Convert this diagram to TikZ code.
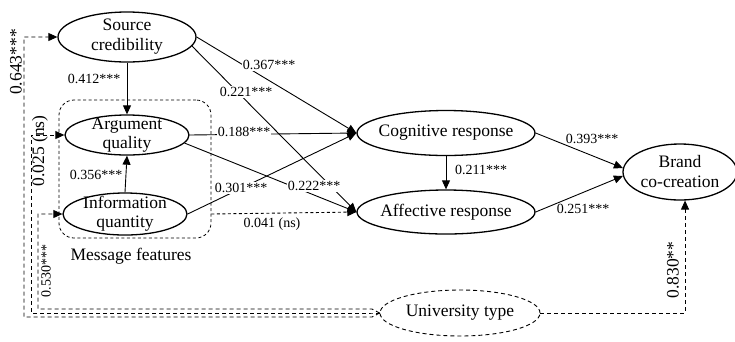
\documentclass[tikz,border=0pt]{standalone}
\usepackage{fontspec}
\setmainfont{Liberation Serif}
\usetikzlibrary{shapes.geometric,arrows.meta}
\begin{document}
\begin{tikzpicture}[x=1pt,y=-1pt,
 lat/.style={ellipse,draw,line width=1.3pt,inner sep=-20pt,align=center,font=\fontsize{17.5}{20}\selectfont},
 arr/.style={line width=0.9pt,-{Triangle[length=9pt,width=8pt]}},
 darr/.style={arr,dash pattern=on 4pt off 3pt},
 coef/.style={fill=white,inner sep=1pt,font=\fontsize{14}{16}\selectfont},
 coefv/.style={inner sep=0pt,rotate=90,font=\fontsize{17.5}{19}\selectfont},
]
\useasboundingbox (0,0) rectangle (735,341);
% message features box
\node[draw,line width=0.8pt,dash pattern=on 3pt off 2.5pt,rounded corners=15pt,minimum width=152pt,minimum height=138pt,inner sep=0pt] (mf) at (135,169) {};
\node[font=\fontsize{17.5}{20}\selectfont,inner sep=0pt] (mflab) at (131,256) {Message features};
% latent variables
\node[lat,minimum width=138pt,minimum height=50pt] (src) at (127,37) {Source\\credibility};
\node[lat,minimum width=124pt,minimum height=40pt] (arg) at (127,135) {Argument\\[-1pt]quality};
\node[lat,minimum width=124pt,minimum height=42pt] (info) at (125,214) {Information\\[-1pt]quantity};
\node[lat,minimum width=178pt,minimum height=45pt] (cog) at (446,133) {Cognitive response};
\node[lat,minimum width=178pt,minimum height=44pt] (aff) at (446,212) {Affective response};
\node[lat,minimum width=114pt,minimum height=56pt] (brand) at (680,172) {Brand\\co-creation};
\node[lat,line width=0.9pt,dash pattern=on 4pt off 3pt,minimum width=160pt,minimum height=46pt] (uni) at (460,313) {University type};
% structural paths
\draw[arr] (src.south) -- (arg.north);
\draw[arr] (info.north) -- (arg.south);
\draw[arr] (src.east) -- (cog.west);
\draw[arr] (src.-8) -- (aff.west);
\draw[arr] (arg.east) -- (cog.west);
\draw[arr] (arg.-8) -- (aff.west);
\draw[arr] (info.east) -- (cog.west);
\draw[darr,dash pattern=on 3pt off 2.5pt] (info.east -| mf.east) -- (aff.west);
\draw[arr] (cog.south) -- (aff.north);
\draw[arr] (cog.east) -- (brand.176);
\draw[arr] (aff.east) -- (brand.184);
% control variable
\draw[darr] (uni.east) -| (brand.-80);
\draw[darr] (uni.west) -- (372,317) -- (24,317) |- (src.west);
\draw[darr] (uni.west) -- (372,313) -- (31,313) |- (arg.west);
\draw[darr] (uni.west) -- (372,309) -- (38,309) |- (info.west);
% coefficients
\node[coef] (c1) at (94,79) {0.412***};
\node[coef] (c2) at (96,175) {0.356***};
\node[coef] (c3) at (269,65) {0.367***};
\node[coef] (c4) at (246,92) {0.221***};
\node[coef] (c5) at (244,132) {0.188***};
\node[coef] (c6) at (241,188) {0.301***};
\node[coef] (c7) at (314,186) {0.222***};
\node[coef,fill=none] (c8) at (272,224) {0.041 (ns)};
\node[coef,fill=none] (c9) at (481,170) {0.211***};
\node[coef,fill=none] (c10) at (592,139) {0.393***};
\node[coef,fill=none] (c11) at (583,209) {0.251***};
\node[coefv] (c12) at (16,62) {0.643***};
\node[coefv] (c13) at (40,151) {0.025 (ns)};
\node[coefv,font=\fontsize{14}{16}\selectfont] (c14) at (46,271) {0.530***};
\node[coefv] (c15) at (673,270) {0.830**};
\end{tikzpicture}
\end{document}
